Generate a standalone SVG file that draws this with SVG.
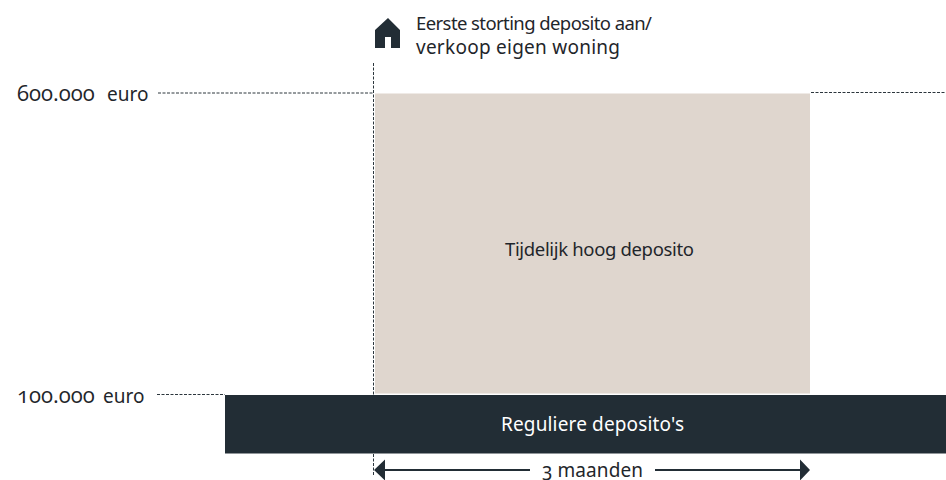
<svg xmlns="http://www.w3.org/2000/svg" width="946" height="480" viewBox="0 0 946 480">
<style>
text{font-family:"Noto Sans","Open Sans",sans-serif;font-size:19px;fill:#1f262b;font-feature-settings:"onum" 1;font-variant-numeric:oldstyle-nums}
.n{font-family:"Open Sans",sans-serif;font-size:22px}
.s{font-size:18.500px}
.d{fill:none;stroke:#2c363d;stroke-width:1;stroke-dasharray:3 1.5}
.a{fill:none;stroke:#222d35;stroke-width:2}
.h{fill:#222d35}
</style>
<rect width="946" height="480" fill="#fff"/>
<g id="connectors">
<path class="d" d="M158 93H373.500M373.500 63V397M373.500 454V476M811 92.500H946M157 394.500H225"/>
<path class="a" d="M384 470H530M655 470H800"/>
<path class="h" d="M374 470L385 459.500V480.500ZM810 470L800 459.500V480.500Z"/>
</g>
<g id="node-high"><rect x="375" y="93.500" width="435" height="300" fill="#dfd6ce"/><text class="s" x="505" y="256" textLength="189">Tijdelijk hoog deposito</text></g>
<g id="node-regular"><rect x="225" y="395" width="721" height="58.500" fill="#222d35"/><text x="501" y="431" textLength="183" style="fill:#fff">Reguliere deposito's</text></g>
<g id="node-house"><path class="h" d="M388 18L375 30V48H385V37H391V48H400V30Z"/></g>
<g id="node-first"><text class="s" x="416" y="30" textLength="236">Eerste storting deposito aan/</text><text x="416" y="54" textLength="204">verkoop eigen woning</text></g>
<g id="label-600"><text x="17" y="101"><tspan class="n">600.000 </tspan><tspan x="107">euro</tspan></text></g>
<g id="label-100"><text x="17" y="403"><tspan class="n">100.000 </tspan><tspan x="103">euro</tspan></text></g>
<g id="label-3"><text x="542" y="477" textLength="101">3 maanden</text></g>
</svg>
